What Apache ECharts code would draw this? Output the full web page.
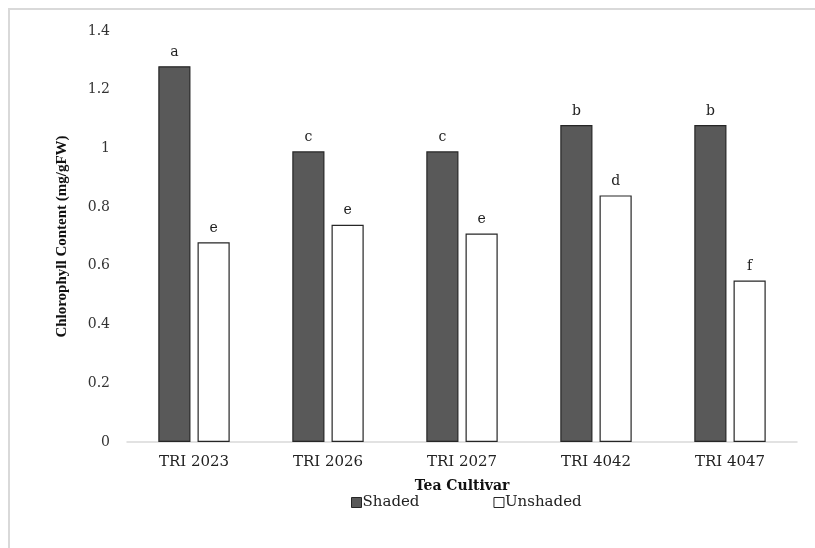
<!DOCTYPE html>
<html>
<head>
<meta charset="utf-8">
<script src="https://cdn.jsdelivr.net/npm/echarts@6/dist/echarts.min.js"></script>
<style>
  html, body { margin: 0; padding: 0; background: #fff; }
  #chart { width: 815px; height: 548px; }
</style>
</head>
<body>
<div id="chart"></div>
<script>
// data
const cultivars = ['TRI 2023', 'TRI 2026', 'TRI 2027', 'TRI 4042', 'TRI 4047']
const shaded = [1.28, 0.99, 0.99, 1.08, 1.08]
const unshaded = [0.68, 0.74, 0.71, 0.84, 0.55]
const shadedLetters = ['a', 'c', 'c', 'b', 'b']
const unshadedLetters = ['e', 'e', 'e', 'd', 'f']
const yTicks = [0, 0.2, 0.4, 0.6, 0.8, 1, 1.2, 1.4]

// the original is a horizontally stretched Times; DejaVu Serif is the closest width
const wide = 'DejaVu Serif'
const serif = 'Liberation Serif'
const chart = echarts.init(document.getElementById('chart'))

function letterLabel(letters) {
  return {
    show: true,
    position: 'top',
    distance: 7,
    fontFamily: wide,
    fontSize: 14,
    color: '#222',
    formatter: function(p) {
      return letters[p.dataIndex]
    }
  }
}

chart.setOption({
  animation: false,
  backgroundColor: '#fff',
  graphic: [{
    type: 'rect',
    shape: { x: 9, y: 9, width: 820, height: 560 },
    style: { fill: 'none', stroke: '#d9d9d9', lineWidth: 2 },
    silent: true
  }],
  grid: { left: 127, right: 18, top: 31, bottom: 106 },
  legend: {
    top: 490,
    left: 346,
    itemGap: 74,
    itemWidth: 10,
    itemHeight: 10,
    icon: 'rect',
    itemStyle: { borderWidth: 1 },
    textStyle: { fontFamily: wide, fontSize: 15, color: '#222', padding: [0, 0, 0, -4] },
    data: ['Shaded', 'Unshaded']
  },
  xAxis: {
    type: 'category',
    data: cultivars,
    name: 'Tea Cultivar',
    nameLocation: 'middle',
    nameGap: 37,
    nameTextStyle: { fontFamily: wide, fontSize: 14, fontWeight: 'bold', color: '#111' },
    axisLine: { lineStyle: { color: '#d9d9d9', width: 1.5 } },
    axisTick: { show: false },
    axisLabel: { fontFamily: wide, fontSize: 15, color: '#222', margin: 13 }
  },
  yAxis: {
    type: 'value',
    min: 0,
    max: 1.4,
    interval: 0.2,
    name: 'Chlorophyll Content (mg/gFW)',
    nameLocation: 'middle',
    nameGap: 57,
    nameTextStyle: { fontFamily: serif, fontSize: 15, fontWeight: 'bold', color: '#111' },
    splitLine: { show: false },
    axisLine: { show: false },
    axisTick: { show: false },
    axisLabel: {
      fontFamily: wide,
      fontSize: 14,
      color: '#333',
      margin: 17,
      formatter: function(v) {
        const t = yTicks.find(x => Math.abs(x - v) < 1e-6)
        return t === undefined ? '' : String(t)
      }
    }
  },
  series: [{
    name: 'Shaded',
    type: 'bar',
    data: shaded,
    barWidth: '24%',
    barGap: '22%',
    itemStyle: { color: '#595959', borderColor: '#262626', borderWidth: 1.2 },
    label: letterLabel(shadedLetters)
  }, {
    name: 'Unshaded',
    type: 'bar',
    data: unshaded,
    barWidth: '24%',
    itemStyle: { color: '#ffffff', borderColor: '#262626', borderWidth: 1.2 },
    label: letterLabel(unshadedLetters)
  }]
})
</script>
</body>
</html>
